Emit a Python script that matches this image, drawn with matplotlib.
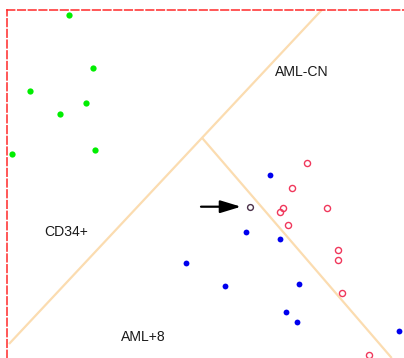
import matplotlib
matplotlib.use("Agg")
import matplotlib.pyplot as plt

# Sample scores in the 2-D projection
cd34_x = [68.7, 93.0, 30.3, 85.7, 60.3, 95.3, 12.3]
cd34_y = [343.3, 290.0, 267.3, 255.3, 244.3, 208.0, 203.7]

aml8_x = [270.3, 245.7, 279.7, 185.7, 225.3, 299.0, 286.0, 296.7, 399.0]
aml8_y = [183.0, 126.3, 119.0, 95.0, 72.0, 74.3, 45.7, 35.7, 27.3]

amlcn_x = [306.7, 292.3, 283.0, 280.3, 327.3, 287.7, 338.0, 338.0, 342.0, 369.3]
amlcn_y = [194.7, 170.3, 150.0, 146.3, 149.7, 133.0, 108.0, 98.0, 65.3, 3.3]

query_x = [250.5]
query_y = [151.0]

# Decision boundaries between the groups
boundary1_x = [321.7, 9.0]
boundary1_y = [348.0, 14.0]
boundary2_x = [202.0, 391.7]
boundary2_y = [220.2, 0.0]

# Group labels
labels = ["AML-CN", "CD34+", "AML+8"]
label_x = [302.0, 65.8, 143.3]
label_y = [286.0, 126.0, 21.3]

# Arrow pointing at the query sample
arrow_tail = (201.0, 151.3)
arrow_tip = (241.0, 151.3)

W, H, DPI = 404, 358, 100
fig = plt.figure(figsize=(W / DPI, H / DPI), dpi=DPI)
ax = fig.add_axes([7.3 / W, 0.0, 1 - 7.3 / W, (H - 10) / H])
ax.set_xlim(7.3, 404)
ax.set_ylim(0, 348)
ax.set_xticks([])
ax.set_yticks([])
for side in ("right", "bottom"):
    ax.spines[side].set_visible(False)
for side in ("left", "top"):
    sp = ax.spines[side]
    sp.set_color("#ff2828")
    sp.set_linewidth(1.1)
    sp.set_linestyle((0, (5.0, 2.0)))

line_color = "#fbdcb0"
ax.plot(boundary1_x, boundary1_y, color=line_color, lw=1.6, solid_capstyle="butt", zorder=1, clip_on=False)
ax.plot(boundary2_x, boundary2_y, color=line_color, lw=1.6, solid_capstyle="butt", zorder=1)

ax.plot(cd34_x, cd34_y, "o", color="#00ee00", ms=4.5, mec="none", zorder=3, clip_on=False)
ax.plot(aml8_x, aml8_y, "o", color="#0000ee", ms=4.2, mec="none", zorder=3, clip_on=False)
ax.plot(amlcn_x, amlcn_y, "o", mfc="none", mec="#f0385c", ms=4.4, mew=1.0, zorder=3, clip_on=False)
ax.plot(query_x, query_y, "o", mfc="none", mec="#4a3048", ms=4.2, mew=1.0, zorder=3)

ax.annotate("", xy=arrow_tip, xytext=arrow_tail,
            arrowprops=dict(arrowstyle="-|>,head_length=1.25,head_width=0.38",
                            mutation_scale=10, lw=1.6, color="black",
                            shrinkA=0, shrinkB=0))

for t, x, y in zip(labels, label_x, label_y):
    ax.text(x, y, t, ha="center", va="center", fontsize=10.1,
            family="Liberation Sans", color="#1a1a1a")

fig.savefig("out.png", dpi=DPI)
